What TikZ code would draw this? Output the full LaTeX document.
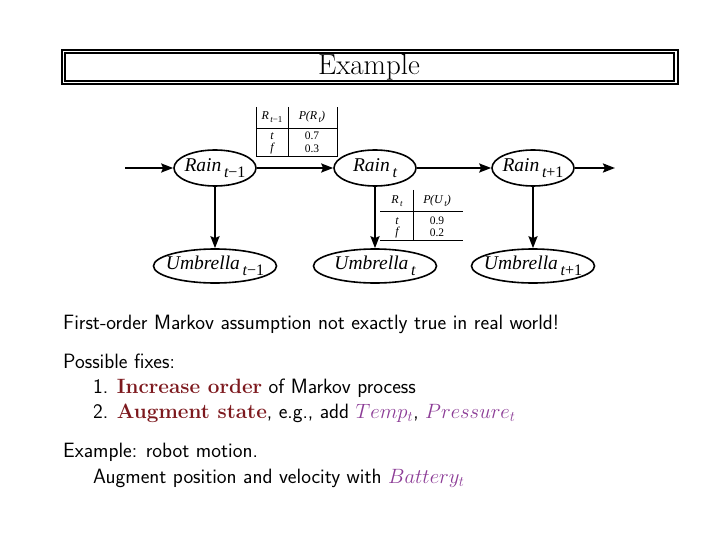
\RequirePackage{fix-cm}
\documentclass[tikz,border=0pt]{standalone}
\usepackage{fontspec}
\usepackage{xcolor}
\usetikzlibrary{shapes.geometric,arrows.meta}
\newfontfamily\tnr{Liberation Serif}
\newcommand\lowsub[3]{\raisebox{#1}{\fontsize{#2}{#2}\selectfont #3}}
\newcommand\evar[2]{\makebox[0pt]{\tnr\itshape #1\lowsub{-6pt}{16}{\,#2}}}
\newcommand\tv[2]{{\tnr\itshape #1\lowsub{-2.5pt}{9}{\,#2}}}
\newcommand\up[1]{{\upshape #1}}
\definecolor{maroon}{RGB}{125,25,30}
\definecolor{purp}{RGB}{140,60,150}
\tikzset{
  var/.style={ellipse,draw,line width=1.6pt,inner sep=0pt,font=\fontsize{19.5}{22}\selectfont},
  rainv/.style={var,minimum width=82pt,minimum height=36pt},
  umbv/.style={var,minimum width=123pt,minimum height=34pt},
  conn/.style={line width=2.2pt,-{Stealth[length=12pt,width=9pt,inset=2pt]}},
  tab/.style={font=\fontsize{12}{13}\tnr\itshape,inner sep=0pt,anchor=center},
  tnum/.style={tab,font=\fontsize{11.5}{13}\tnr},
  tline/.style={line width=0.8pt},
  body/.style={anchor=base west,inner sep=0pt,font=\fontsize{20.7}{24}\sffamily}
}
\begin{document}
\begin{tikzpicture}[x=1pt,y=-1pt]
\useasboundingbox (0,0) rectangle (720,540);
% title
\draw[line width=1.1pt] (62,50) rectangle (678,84);
\draw[line width=1.1pt] (65,53) rectangle (674,81);
\node[inner sep=0pt,font=\fontsize{29}{32}\selectfont] (title) at (369,67) {Example};
% nodes
\node[rainv] (R1) at (215,168) {\evar{Rain}{t\up{−1}}};
\node[rainv] (R2) at (375,168) {\evar{Rain}{t}};
\node[rainv] (R3) at (533,168) {\evar{Rain}{t\up{+1}}};
\node[umbv] (U1) at (215,266) {\evar{Umbrella}{t\up{−1}}};
\node[umbv] (U2) at (375,266) {\evar{Umbrella}{t}};
\node[umbv] (U3) at (533,266) {\evar{Umbrella}{t\up{+1}}};
\coordinate (in) at (125,168);
\coordinate (out) at (615,168);
\draw[conn] (in) -- (R1);
\draw[conn] (R1) -- (R2);
\draw[conn] (R2) -- (R3);
\draw[conn] (R3) -- (out);
\draw[conn] (R1) -- (U1);
\draw[conn] (R2) -- (U2);
\draw[conn] (R3) -- (U3);
% table 1
\draw[tline] (256,107) -- (256,156) -- (337,156) -- (337,107);
\draw[tline] (288,107) -- (288,156);
\draw[tline] (256,128) -- (337,128);
\node[tab] (a1) at (272,117) {\tv{R}{t\up{−1}}};
\node[tab] (a2) at (312,117) {\tv{P}{}\hspace{-2pt}(\tv{R}{t})};
\node[tab] (a3) at (272,136) {t};
\node[tnum] (a4) at (312,136) {0.7};
\node[tab] (a5) at (272,149) {f};
\node[tnum] (a6) at (312,149) {0.3};
% table 2
\draw[tline] (413,190) -- (413,240);
\draw[tline] (380,211) -- (463,211);
\draw[tline] (380,240) -- (463,240);
\node[tab] (b1) at (397,201) {\tv{R}{t}};
\node[tab] (b2) at (437,201) {\tv{P}{}\hspace{-2pt}(\tv{U}{t})};
\node[tab] (b3) at (397,221) {t};
\node[tnum] (b4) at (437,221) {0.9};
\node[tab] (b5) at (397,233) {f};
\node[tnum] (b6) at (437,233) {0.2};
% body text
\node[body] (l1) at (63,329) {First-order Markov assumption not exactly true in real world!};
\node[body] (l2) at (63,368) {Possible fixes:};
\node[body] (l3) at (93,393) {1. {\rmfamily\bfseries\color{maroon}Increase order} of Markov process};
\node[body] (l4) at (93,418) {2. {\rmfamily\bfseries\color{maroon}Augment state}, e.g., add {\color{purp}$Temp_t$}, {\color{purp}$Pressure_t$}};
\node[body] (l5) at (63,457) {Example: robot motion.};
\node[body] (l6) at (93,483) {Augment position and velocity with {\color{purp}$Battery_t$}};
\end{tikzpicture}
\end{document}
